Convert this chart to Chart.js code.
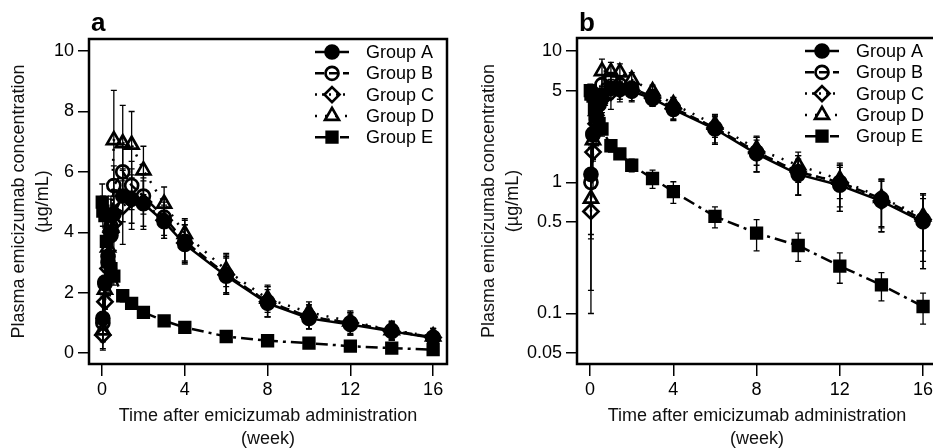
<!DOCTYPE html>
<html>
<head>
<meta charset="utf-8">
<script src="https://cdn.jsdelivr.net/npm/chart.js@4"></script>
<style>
  html, body { margin: 0; padding: 0; background: #fff; }
  body { width: 933px; height: 448px; overflow: hidden; position: relative; }
  canvas { position: absolute; top: 0; }
  #panelA { left: 0; }
  #panelB { left: 470px; }
</style>
</head>
<body>
<canvas id="panelA" width="470" height="448"></canvas>
<canvas id="panelB" width="480" height="448"></canvas>
<script>
// sampling times (week)
const weeksSC = [0.04, 0.14, 0.29, 0.43, 0.57, 1, 1.43, 2, 3, 4, 6, 8, 10, 12, 14, 16];
const weeksIV = [0.01, 0.04, 0.14, 0.21, 0.29, 0.43, 0.57, 1, 1.43, 2, 3, 4, 6, 8, 10, 12, 14, 16];

// mean concentration (ug/mL) and SD per group
const groupA = [1.15, 2.3, 3.2, 3.9, 4.6, 5.2, 5.1, 4.95, 4.35, 3.6, 2.55, 1.65, 1.15, 0.95, 0.72, 0.5];
const sdA    = [0.78, 0.8, 0.9, 0.8, 0.8, 0.85, 0.8, 0.75, 0.55, 0.65, 0.6, 0.45, 0.35, 0.35, 0.3, 0.25];
const groupB = [1.0, 2.35, 3.0, 4.2, 5.55, 6.0, 5.55, 5.2, 4.5, 3.7, 2.6, 1.7, 1.2, 1.0, 0.75, 0.52];
const sdB    = [0.85, 0.9, 0.9, 0.9, 0.65, 0.9, 0.8, 0.6, 0.6, 0.7, 0.65, 0.5, 0.4, 0.4, 0.3, 0.3];
const groupC = [0.6, 1.7, 2.8, 4.0, 4.3, 4.85, 5.1, 5.0, 4.4, 3.65, 2.6, 1.7, 1.2, 1.0, 0.72, 0.52];
const sdC    = [0.5, 0.8, 0.9, 0.8, 0.9, 1.25, 1.0, 0.9, 0.6, 0.6, 0.6, 0.5, 0.4, 0.35, 0.3, 0.3];
const groupD = [0.75, 2.1, 3.5, 4.2, 7.05, 6.95, 6.9, 6.05, 4.95, 3.95, 2.75, 1.8, 1.35, 1.05, 0.76, 0.55];
const sdD    = [0.35, 0.6, 0.9, 1.0, 1.65, 1.25, 1.1, 0.8, 0.55, 0.5, 0.55, 0.45, 0.35, 0.3, 0.3, 0.25];
const groupE = [5.0, 4.7, 4.55, 3.7, 3.15, 2.8, 2.55, 1.9, 1.65, 1.35, 1.07, 0.85, 0.55, 0.41, 0.33, 0.23, 0.165, 0.113];
const sdE    = [0.6, 0.5, 0.4, 0.4, 0.35, 0.3, 0.3, 0.2, 0.15, 0.15, 0.17, 0.16, 0.1, 0.11, 0.08, 0.06, 0.04, 0.03];

const groupLabels = ["Group A", "Group B", "Group C", "Group D", "Group E"];
const xTicks = [0, 4, 8, 12, 16];
const yTicksLinear = [0, 2, 4, 6, 8, 10];
const yTicksLog = [0.05, 0.1, 0.5, 1, 5, 10];

const FONT = "'Liberation Sans', Arial, sans-serif";
Chart.defaults.font.family = FONT;
Chart.defaults.color = "#000";

const looks = [
  { style: "circle", filled: true, dash: [], r: 6.5 },
  { style: "circle", filled: false, dash: [9, 5], r: 6.5 },
  { style: "rectRot", filled: false, dash: [2, 5], r: 7.5 },
  { style: "triangle", filled: false, dash: [2, 8], r: 8 },
  { style: "rect", filled: true, dash: [12, 5, 3, 5], r: 7.5 },
];

const zip = (xs, ys) => xs.map((x, i) => ({ x: x, y: ys[i] }));

const buildDatasets = () => {
  const series = [
    [weeksSC, groupA, sdA],
    [weeksSC, groupB, sdB],
    [weeksSC, groupC, sdC],
    [weeksSC, groupD, sdD],
    [weeksIV, groupE, sdE],
  ];
  return series.map(([t, m, sd], i) => ({
    label: groupLabels[i],
    data: zip(t, m),
    sd: sd,
    borderColor: "#000",
    borderWidth: 2.5,
    borderDash: looks[i].dash,
    pointStyle: looks[i].style,
    pointRadius: looks[i].r,
    pointBorderWidth: 2.7,
    pointBorderColor: "#000",
    pointBackgroundColor: looks[i].filled ? "#000" : "rgba(0,0,0,0)",
    tension: 0,
  }));
};

// draw one marker like the plot symbols
const marker = (ctx, style, filled, r, x, y) => {
  ctx.beginPath();
  if (style === "circle") {
    ctx.arc(x, y, r, 0, Math.PI * 2);
  } else if (style === "triangle") {
    ctx.moveTo(x, y - r);
    ctx.lineTo(x + 0.866 * r, y + 0.5 * r);
    ctx.lineTo(x - 0.866 * r, y + 0.5 * r);
    ctx.closePath();
  } else if (style === "rectRot") {
    ctx.moveTo(x, y - r);
    ctx.lineTo(x + r, y);
    ctx.lineTo(x, y + r);
    ctx.lineTo(x - r, y);
    ctx.closePath();
  } else {
    const h = r * Math.SQRT1_2;
    ctx.rect(x - h, y - h, 2 * h, 2 * h);
  }
  if (filled) ctx.fill();
  ctx.stroke();
};

const errorBars = {
  id: "errorBars",
  beforeDatasetsDraw(chart) {
    const { ctx, chartArea: a } = chart;
    const xs = chart.scales.x, ys = chart.scales.y;
    const isLog = ys.type === "logarithmic";
    ctx.save();
    ctx.beginPath();
    ctx.rect(a.left, a.top, a.right - a.left, a.bottom - a.top);
    ctx.clip();
    ctx.strokeStyle = "#000";
    ctx.lineWidth = 1.3;
    chart.data.datasets.forEach((ds) => {
      ds.data.forEach((p, i) => {
        const sd = ds.sd[i];
        const px = xs.getPixelForValue(p.x);
        const lowVal = p.y - sd;
        const lo = isLog && lowVal <= 0 ? a.bottom + 5 : ys.getPixelForValue(lowVal);
        const hi = ys.getPixelForValue(p.y + sd);
        ctx.beginPath();
        ctx.moveTo(px, lo); ctx.lineTo(px, hi);
        ctx.moveTo(px - 3, lo); ctx.lineTo(px + 3, lo);
        ctx.moveTo(px - 3, hi); ctx.lineTo(px + 3, hi);
        ctx.stroke();
      });
    });
    ctx.restore();
  },
};

const frame = {
  id: "frame",
  afterDraw(chart, args, opts) {
    const { ctx, chartArea: a } = chart;
    ctx.save();
    ctx.strokeStyle = "#000";
    ctx.lineWidth = 2.5;
    ctx.strokeRect(a.left, a.top, a.right - a.left, a.bottom - a.top);

    // panel letter
    ctx.fillStyle = "#000";
    ctx.font = "bold 26px " + FONT;
    ctx.textBaseline = "alphabetic";
    ctx.textAlign = "left";
    ctx.fillText(opts.letter, a.left + 2, 31);

    // legend in the top right corner
    ctx.font = "18px " + FONT;
    ctx.textBaseline = "middle";
    chart.data.datasets.forEach((ds, i) => {
      const y = a.top + 13 + i * 21.3;
      const x0 = a.right - 132;
      ctx.lineWidth = 2.5;
      ctx.setLineDash(looks[i].dash);
      ctx.beginPath();
      ctx.moveTo(x0, y);
      ctx.lineTo(x0 + 34, y);
      ctx.stroke();
      ctx.setLineDash([]);
      ctx.lineWidth = 2.7;
      marker(ctx, looks[i].style, looks[i].filled, looks[i].r, x0 + 17, y);
      ctx.fillText(ds.label, a.right - 81, y + 1);
    });
    ctx.restore();
  },
};

const makePanel = (canvasId, letter, logScale, rightPad) => {
  const canvas = document.getElementById(canvasId).getContext("2d");
  const yTicks = logScale ? yTicksLog : yTicksLinear;
  return new Chart(canvas, {
    type: "line",
    data: { datasets: buildDatasets() },
    plugins: [errorBars, frame],
    options: {
      responsive: false,
      animation: false,
      devicePixelRatio: 1,
      layout: { padding: { top: logScale ? 38 : 39, right: rightPad, left: 0, bottom: 0 } },
      plugins: {
        legend: { display: false },
        tooltip: { enabled: false },
        frame: { letter: letter },
      },
      scales: {
        x: {
          type: "linear",
          min: -0.63,
          max: 16.67,
          afterBuildTicks: (s) => { s.ticks = xTicks.map((v) => ({ value: v })); },
          afterFit: (s) => { s.height = 84; },
          ticks: { font: { size: 18 }, color: "#000", padding: 3, maxRotation: 0, autoSkip: false },
          grid: { drawOnChartArea: false, drawTicks: true, tickLength: 12, color: "#000", lineWidth: 1.5 },
          border: { display: false },
          title: {
            display: true,
            text: ["Time after emicizumab administration", "(week)"],
            font: { size: 18, lineHeight: 1.3 },
            color: "#111",
            padding: { top: 0, bottom: -3 },
          },
        },
        y: {
          type: logScale ? "logarithmic" : "linear",
          min: logScale ? 0.0412 : -0.36,
          max: logScale ? 12.6 : 10.4,
          afterBuildTicks: (s) => { s.ticks = yTicks.map((v) => ({ value: v })); },
          afterFit: (s) => { s.width = logScale ? 107 : 89; },
          ticks: { font: { size: 18 }, color: "#000", padding: 4, autoSkip: false, callback: (v) => String(v) },
          grid: { drawOnChartArea: false, drawTicks: true, tickLength: 11, color: "#000", lineWidth: 1.5 },
          border: { display: false },
          title: {
            display: true,
            text: ["Plasma emicizumab concentration", "(\u00b5g/mL)"],
            font: { size: 18, lineHeight: 1.333 },
            color: "#111",
            padding: { top: 7, bottom: 0 },
          },
        },
      },
    },
  });
};

makePanel("panelA", "a", false, 23);
makePanel("panelB", "b", true, 13);
</script>
</body>
</html>
